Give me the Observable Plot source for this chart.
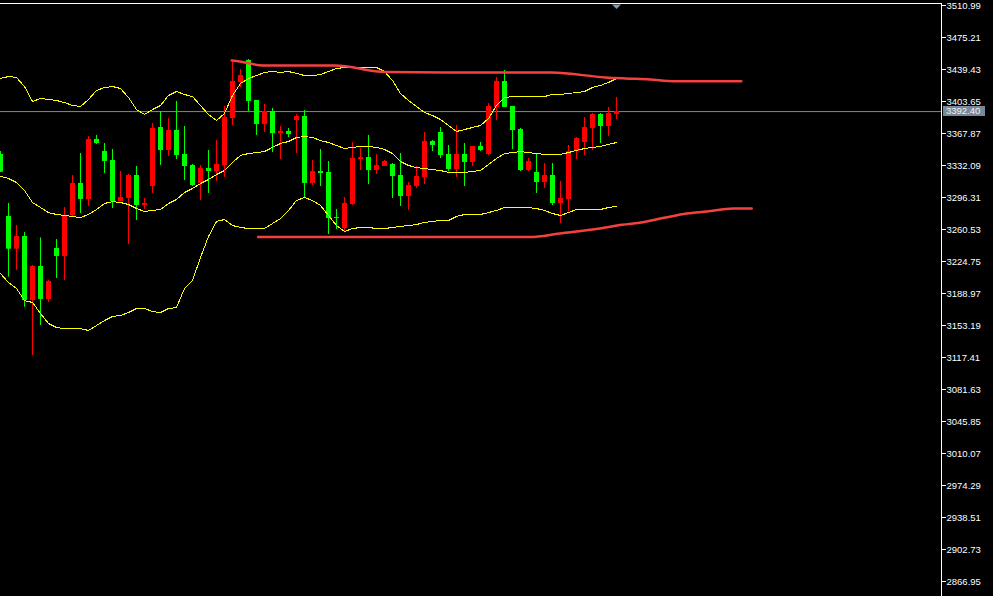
<!DOCTYPE html>
<html><head><meta charset="utf-8">
<script src="https://cdn.jsdelivr.net/npm/d3@7"></script>
<script src="https://cdn.jsdelivr.net/npm/@observablehq/plot@0.6"></script>
<style>
html,body{margin:0;padding:0;background:#000;}
#chart{width:993px;height:596px;overflow:hidden;background:#000;}
</style></head><body><div id="chart"></div>
<script>
// OHLC (price) per bar index 0..77
const open = [3344.4,3275.1,3238.5,3252.7,3181.1,3219.2,3182.3,3239.3,3230.3,3276.2,
3312.0,3294.1,3361.2,3347.7,3337.7,3291.8,3295.2,3320.9,3287.4,3308.6,
3374.6,3348.9,3371.2,3344.4,3332.1,3312.0,3328.7,3325.4,3332.1,3384.6,
3424.9,3449.5,3404.8,3378.0,3392.5,3367.7,3370.1,3382.4,3386.9,3312.0,
3325.4,3324.3,3273.9,3261.6,3288.5,3338.8,3341.0,3326.5,3331.0,3333.2,
3320.9,3297.4,3308.6,3318.7,3358.9,3369.0,3344.4,3327.6,3344.4,3335.5,
3353.4,3344.4,3397.0,3426.0,3398.1,3372.3,3326.5,3324.3,3313.1,3320.9,
3289.6,3294.1,3347.7,3357.8,3373.5,3389.1,3375.7,3389.1];
const high = [3347.7,3289.6,3265.0,3257.2,3220.3,3251.1,3203.5,3249.3,3285.1,3320.9,
3345.5,3364.5,3365.7,3356.7,3350.0,3325.4,3322.0,3331.0,3295.2,3379.1,
3392.5,3384.6,3403.7,3375.7,3333.2,3332.1,3348.9,3360.0,3398.1,3447.3,
3439.4,3450.6,3404.8,3400.3,3396.0,3375.7,3373.5,3389.1,3393.6,3337.7,
3350.0,3336.6,3282.9,3296.3,3357.8,3351.1,3365.7,3344.4,3337.7,3334.3,
3345.5,3313.1,3331.0,3369.0,3360.0,3374.6,3354.5,3376.8,3356.7,3353.4,
3357.8,3401.4,3430.5,3438.3,3398.1,3373.5,3339.9,3345.5,3334.3,3334.3,
3314.2,3354.5,3363.4,3385.8,3390.2,3390.2,3397.0,3408.1];
const low = [3324.3,3207.2,3214.7,3173.6,3119.6,3153.2,3178.9,3205.7,3203.5,3275.1,
3278.4,3286.3,3355.6,3323.1,3284.0,3291.8,3243.8,3270.6,3282.9,3300.8,
3332.1,3342.2,3338.8,3315.3,3308.6,3293.0,3300.8,3314.2,3318.7,3376.8,
3419.3,3392.5,3365.7,3369.0,3346.6,3338.8,3363.4,3345.5,3295.2,3309.7,
3308.6,3254.9,3260.5,3258.3,3287.4,3326.5,3310.8,3322.0,3331.0,3295.2,
3286.3,3281.8,3306.4,3310.8,3347.7,3339.9,3325.4,3318.7,3308.6,3331.0,
3347.7,3343.3,3382.4,3397.0,3350.0,3325.4,3325.4,3300.8,3306.4,3287.4,
3267.2,3280.7,3338.8,3343.3,3348.9,3356.7,3364.5,3383.5];
const close = [3324.6,3238.5,3252.7,3181.1,3219.2,3182.3,3202.4,3230.3,3276.2,3312.0,
3294.1,3361.2,3356.7,3336.6,3291.8,3296.3,3320.9,3287.4,3289.6,3373.5,
3348.9,3371.2,3343.3,3331.0,3309.7,3328.7,3325.4,3333.2,3385.8,3426.0,
3432.7,3403.7,3378.0,3392.5,3367.7,3370.1,3366.6,3386.9,3312.0,3325.4,
3323.1,3272.8,3272.8,3289.6,3339.9,3341.0,3326.5,3332.1,3336.6,3319.8,
3297.4,3309.7,3319.8,3358.9,3354.5,3343.3,3327.6,3344.4,3335.5,3353.4,
3348.9,3398.1,3426.0,3397.0,3371.2,3326.5,3336.6,3313.1,3320.9,3289.6,
3295.2,3347.7,3362.3,3374.6,3389.1,3375.7,3390.2,3392.4];

// Bollinger bands
const bandUpper = [3429.4,3431.6,3430.5,3420.4,3403.7,3407.0,3405.9,3404.8,3402.5,3399.2,
3398.1,3405.9,3416.0,3419.3,3420.4,3418.2,3408.1,3394.7,3389.1,3394.7,
3399.2,3410.4,3414.8,3411.5,3409.2,3399.2,3389.1,3382.4,3390.2,3410.4,
3423.8,3429.4,3432.7,3436.1,3437.2,3436.1,3437.2,3435.0,3432.7,3432.7,
3433.8,3437.2,3440.5,3441.7,3441.7,3441.7,3441.7,3441.7,3437.2,3427.1,
3412.6,3404.8,3398.1,3391.4,3388.0,3383.5,3376.8,3370.1,3372.3,3374.6,
3376.8,3384.6,3399.2,3408.1,3409.2,3409.2,3409.2,3409.2,3409.2,3411.5,
3411.5,3412.6,3413.7,3414.8,3419.3,3421.6,3424.9,3429.4];
const bandMid = [3319.8,3317.6,3313.1,3304.1,3290.7,3285.1,3279.5,3277.3,3276.2,3275.1,
3273.9,3277.3,3282.9,3289.6,3291.8,3290.7,3288.5,3284.0,3280.7,3281.8,
3282.9,3289.6,3294.1,3301.9,3306.4,3312.0,3316.4,3322.0,3326.5,3335.5,
3343.3,3345.5,3346.6,3347.7,3352.3,3356.7,3358.9,3363.4,3364.5,3363.4,
3360.0,3357.8,3354.5,3351.1,3352.3,3353.4,3353.4,3352.3,3350.0,3345.5,
3336.6,3332.1,3329.8,3328.7,3327.6,3326.5,3324.3,3324.3,3324.3,3325.4,
3326.5,3333.2,3339.9,3345.5,3346.6,3347.7,3346.6,3345.5,3344.4,3344.4,
3344.4,3346.6,3348.9,3351.1,3352.3,3353.4,3355.6,3357.8];
const bandLower = [3211.3,3201.3,3194.6,3181.1,3178.9,3166.6,3155.4,3150.9,3149.8,3149.8,
3149.8,3147.6,3153.2,3158.8,3163.3,3164.4,3167.7,3172.2,3172.2,3168.8,
3167.7,3172.2,3173.3,3194.6,3203.5,3229.2,3252.7,3269.5,3271.7,3265.0,
3262.8,3261.6,3261.6,3261.6,3267.2,3272.8,3281.8,3293.0,3296.3,3293.0,
3287.4,3276.2,3265.0,3258.3,3261.6,3262.8,3262.8,3261.6,3261.6,3262.8,
3263.9,3265.0,3266.1,3268.4,3269.5,3270.6,3270.6,3275.1,3277.3,3277.3,
3277.3,3279.5,3281.8,3285.1,3285.1,3285.1,3285.1,3284.0,3281.8,3278.4,
3276.2,3279.5,3282.9,3282.9,3282.9,3282.9,3285.1,3286.3];

// Red channel lines (bar index, price), extending past the last bar
const redUpIdx = [28.9,29.9,32.8,41.8,48.1,58.7,68.9,75.6,78.1,81.2,84.1,92.6];
const redUpVal = [3449.5,3448.4,3443.9,3443.9,3436.6,3436.1,3436.1,3430.5,3429.4,3428.3,3426.4,3426.4];
const redLoIdx = [32.2,66.2,69.9,74.9,77.7,80.3,83.3,85.8,88.3,91.6,93.9];
const redLoVal = [3252.1,3252.1,3256.1,3261.6,3265.8,3268.7,3274.3,3278.4,3280.7,3284.0,3284.0];

// Price axis tick labels
const priceTicks = [3510.99,3475.21,3439.43,3403.65,3367.87,3332.09,3296.31,3260.53,3224.75,3188.97,
3153.19,3117.41,3081.63,3045.85,3010.07,2974.29,2938.51,2902.73,2866.95];

const W = 993, H = 596, MR = 52, MT = 3;
const UP = "#ff0000", DOWN = "#00ff00";
const FONT = "Liberation Sans, Arial, sans-serif";
const bars = open.map((o, i) => ({i, open: o, high: high[i], low: low[i], close: close[i]}));
const col = d => d.close >= d.open ? UP : DOWN;
const band = arr => arr.map((v, i) => ({i, v}));
const pairs = (xs, ys) => xs.map((x, j) => ({i: x, v: ys[j]}));
const lastIdx = close.length - 1;
const lastClose = close[lastIdx];

const chart = Plot.plot({
  width: W, height: H,
  marginLeft: 0, marginRight: MR, marginTop: MT, marginBottom: 0,
  style: {background: "#000", color: "#fff", fontFamily: FONT, fontSize: "9.5px"},
  x: {domain: [0, (W - MR) / 8], axis: null},
  y: {domain: [2850.19, 3513.23], axis: null},
  marks: [
    Plot.ruleY([lastClose], {stroke: "#778899", strokeWidth: 1}),
    Plot.ruleX(bars, {x: "i", y1: "low", y2: "high", stroke: col, strokeWidth: 1}),
    Plot.ruleX(bars, {x: "i", y1: "open", y2: "close", stroke: col, strokeWidth: 5}),
    Plot.line(band(bandUpper), {x: "i", y: "v", stroke: "#ffff00", strokeWidth: 1, shapeRendering: "crispEdges"}),
    Plot.line(band(bandMid), {x: "i", y: "v", stroke: "#ffff00", strokeWidth: 1, shapeRendering: "crispEdges"}),
    Plot.line(band(bandLower), {x: "i", y: "v", stroke: "#ffff00", strokeWidth: 1, shapeRendering: "crispEdges"}),
    Plot.line(pairs(redUpIdx, redUpVal), {x: "i", y: "v", stroke: "#f54040", strokeWidth: 2.5, curve: "monotone-x"}),
    Plot.line(pairs(redLoIdx, redLoVal), {x: "i", y: "v", stroke: "#f54040", strokeWidth: 2.5, curve: "monotone-x"}),
    Plot.frame({anchor: "top", stroke: "#fff"}),
    Plot.frame({anchor: "right", stroke: "#fff"}),
    Plot.axisY(priceTicks, {anchor: "right", tickSize: 4, tickPadding: 1, tickFormat: d => d.toFixed(2), label: null, fill: "#fff", stroke: "#fff"})
  ]
});
document.getElementById("chart").appendChild(chart);

// current price label box in the axis area, and last-bar marker at the top
const svg = d3.select(chart);
const ys = chart.scale("y"), xs = chart.scale("x");
const py = Math.round(ys.apply(lastClose));
const ax = W - MR;
svg.append("rect").attr("x", ax + 2).attr("y", py - 5).attr("width", 42).attr("height", 10).attr("fill", "#778899");
svg.append("text").attr("x", ax + 5).attr("y", py).attr("dy", "0.35em")
  .attr("text-anchor", "start")
  .attr("fill", "#f0f0f0").attr("font-size", "9.5px").attr("font-family", FONT)
  .text(lastClose.toFixed(2));
const tx = xs.apply(lastIdx) + 0.5;
svg.append("polygon").attr("points", `${tx-4.5},${MT+1.5} ${tx+4.5},${MT+1.5} ${tx},${MT+6}`).attr("fill", "#8899aa");
</script></body></html>
